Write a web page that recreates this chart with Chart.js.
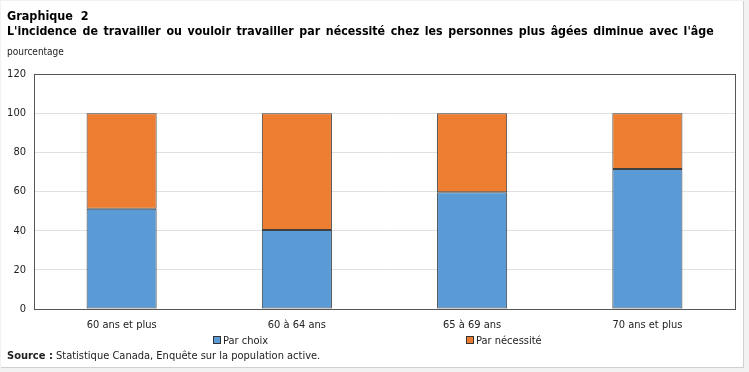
<!DOCTYPE html>
<html><head><meta charset="utf-8">
<script src="https://cdn.jsdelivr.net/npm/chart.js@4/dist/chart.umd.min.js"></script>
<style>
html,body{margin:0;padding:0;background:#f2f2f2;}
#wrap{position:absolute;left:1px;top:1px;width:742px;height:366px;background:#fff;border-right:1px solid #d0d0d0;border-bottom:1px solid #d0d0d0;}
#c{position:absolute;left:0;top:0;}
.t{position:absolute;font-family:"DejaVu Sans Condensed","DejaVu Sans",sans-serif;color:#000;white-space:nowrap;}
#t1{left:7px;top:8px;font-size:12.5px;font-weight:bold;}
#t2{left:7px;top:24px;font-size:12.3px;font-weight:bold;word-spacing:1.8px;}
#unit{left:7px;top:46px;font-size:10px;color:#222;}
.leg{position:absolute;font-family:"DejaVu Sans Condensed","DejaVu Sans",sans-serif;font-size:11px;color:#222;top:334px;}
.sw{display:inline-block;width:6px;height:6px;border:1px solid #333;margin-right:2px;vertical-align:0px;}
#src{left:7px;top:349px;font-size:11px;color:#222;}
</style></head>
<body>
<div id="wrap"></div>
<canvas id="c" width="749" height="372"></canvas>
<div class="t" id="t1">Graphique&nbsp; 2</div>
<div class="t" id="t2">L'incidence de travailler ou vouloir travailler par nécessité chez les personnes plus âgées diminue avec l'âge</div>
<div class="t" id="unit">pourcentage</div>
<div class="leg" style="left:213px"><span class="sw" style="background:#5B9BD5"></span>Par choix</div>
<div class="leg" style="left:466px"><span class="sw" style="background:#ED7D31"></span>Par nécessité</div>
<div class="t" id="src"><b>Source :</b> Statistique Canada, Enquête sur la population active.</div>
<script>
const categories = ["60 ans et plus", "60 à 64 ans", "65 à 69 ans", "70 ans et plus"];
const parChoix = [51.2, 40.3, 59.6, 71.5];
const parNecessite = [48.8, 59.7, 40.4, 28.5];
const yTicks = [0, 20, 40, 60, 80, 100, 120];
const seriesNames = ["Par choix", "Par nécessité"];

const boxPlugin = {
  id: 'box',
  afterDraw(chart) {
    const a = chart.chartArea, ctx = chart.ctx;
    ctx.save();
    ctx.strokeStyle = '#555';
    ctx.lineWidth = 1;
    ctx.strokeRect(Math.round(a.left) + 0.5, Math.round(a.top) + 0.5, Math.round(a.right - a.left), Math.round(a.bottom - a.top));
    ctx.restore();
  }
};

new Chart(document.getElementById('c'), {
  type: 'bar',
  data: {
    labels: categories,
    datasets: [
      { label: seriesNames[0], data: parChoix, backgroundColor: '#5B9BD5', borderColor: '#404040', borderWidth: 1, borderSkipped: false, categoryPercentage: 1, barPercentage: 0.4 },
      { label: seriesNames[1], data: parNecessite, backgroundColor: '#ED7D31', borderColor: '#404040', borderWidth: 1, borderSkipped: false, categoryPercentage: 1, barPercentage: 0.4 }
    ]
  },
  options: {
    responsive: false,
    animation: false,
    devicePixelRatio: 1,
    layout: { padding: { left: 0, right: 14, top: 74, bottom: 33 } },
    plugins: { legend: { display: false }, tooltip: { enabled: false } },
    scales: {
      x: {
        stacked: true,
        grid: { display: false },
        border: { display: false },
        ticks: { color: '#222', font: { family: 'DejaVu Sans Condensed', size: 11 }, padding: 2 },
        afterFit(s) { s.height = 30; }
      },
      y: {
        stacked: true,
        min: 0, max: 120,
        afterBuildTicks(s) { s.ticks = yTicks.map(v => ({ value: v })); },
        grid: { color: '#e0e0e0', drawTicks: false },
        border: { display: false },
        ticks: { color: '#222', font: { family: 'DejaVu Sans Condensed', size: 11 }, padding: 8 },
        afterFit(s) { s.width = 34; }
      }
    }
  },
  plugins: [boxPlugin]
});
</script>
</body></html>
